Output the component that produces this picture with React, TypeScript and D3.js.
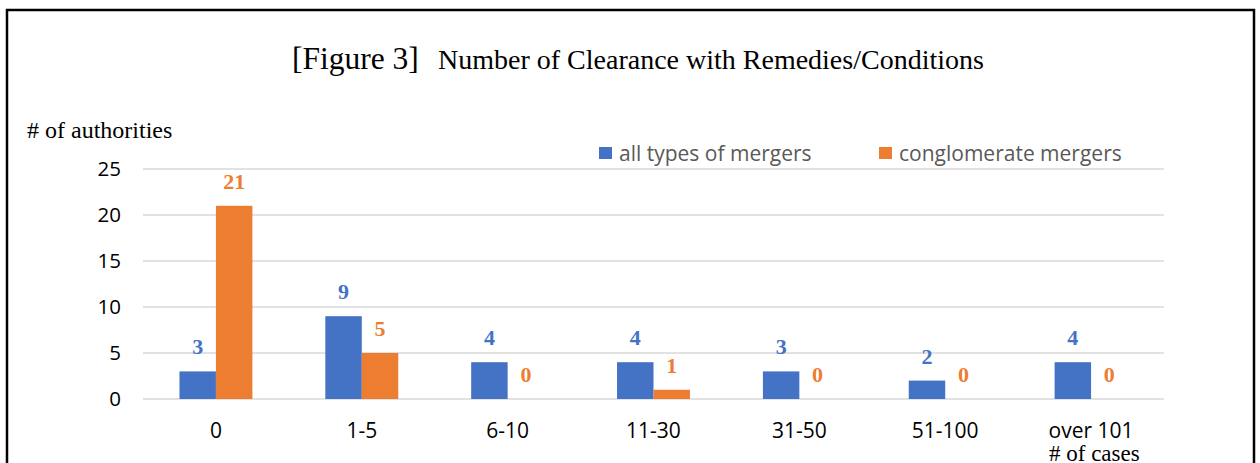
import * as d3 from "d3";

const categories = ["0", "1-5", "6-10", "11-30", "31-50", "51-100", "over 101"];
const allTypes = [3, 9, 4, 4, 3, 2, 4];
const conglomerate = [21, 5, 0, 1, 0, 0, 0];
const seriesNames = ["all types of mergers", "conglomerate mergers"];
const yTicks = [0, 5, 10, 15, 20, 25];

const colors = ["#4472C4", "#ED7D31"];
const serif = "'Liberation Serif', 'Times New Roman', serif";
const sans = "'Open Sans', 'Noto Sans', sans-serif";

export default function App() {
  const width = 1260;
  const height = 463;
  const plot = { left: 143, right: 1164, top: 169, bottom: 399 };

  const x = d3.scaleBand()
    .domain(categories)
    .range([plot.left, plot.right])
    .paddingInner(0.5)
    .paddingOuter(0.25);

  const y = d3.scaleLinear()
    .domain([0, 25])
    .range([plot.bottom, plot.top]);

  const series = [allTypes, conglomerate];
  const barW = x.bandwidth() / 2;

  return (
    <svg
      width={width}
      height={height}
      style={{ position: "absolute", left: 0, top: 0, background: "#fff" }}
    >
      <rect x={7} y={10} width={1247} height={470} fill="none" stroke="#000" strokeWidth={2.5} />

      <text x={292} y={69} fontFamily={serif} fontSize={31.5} fill="#000">[Figure 3]</text>
      <text x={438} y={69} fontFamily={serif} fontSize={28} fill="#000">
        Number of Clearance with Remedies/Conditions
      </text>

      <text x={27} y={138} fontFamily={serif} fontSize={24} fill="#000"># of authorities</text>

      {yTicks.map(t => (
        <g key={t}>
          <line x1={plot.left} x2={plot.right} y1={y(t)} y2={y(t)} stroke="#d9d9d9" strokeWidth={1.5} />
          <text x={121} y={y(t) + 7} textAnchor="end" fontFamily={sans} fontSize={20.5} fill="#000">{t}</text>
        </g>
      ))}

      {series.map((vals, si) => (
        <g key={si}>
          {vals.map((v, i) => {
            const bx = (x(categories[i]) ?? 0) + si * barW;
            return (
              <g key={i}>
                {v > 0 && (
                  <rect x={bx} y={y(v)} width={barW} height={y(0) - y(v)} fill={colors[si]} />
                )}
                <text
                  x={bx + barW / 2}
                  y={y(v) - 17}
                  textAnchor="middle"
                  fontFamily={serif}
                  fontWeight="bold"
                  fontSize={22}
                  fill={colors[si]}
                >
                  {v}
                </text>
              </g>
            );
          })}
        </g>
      ))}

      {categories.map(c => (
        <text
          key={c}
          x={(x(c) ?? 0) + x.bandwidth() / 2}
          y={438}
          textAnchor="middle"
          fontFamily={sans}
          fontSize={21}
          fill="#000"
        >
          {c}
        </text>
      ))}
      <text x={1049} y={461} fontFamily={serif} fontSize={23} fill="#000"># of cases</text>

      {seriesNames.map((name, i) => {
        const lx = i === 0 ? 599 : 879;
        return (
          <g key={name}>
            <rect x={lx} y={147} width={13} height={12} fill={colors[i]} />
            <text x={lx + 20} y={161} fontFamily={sans} fontSize={21} fill="#595959">{name}</text>
          </g>
        );
      })}
    </svg>
  );
}
